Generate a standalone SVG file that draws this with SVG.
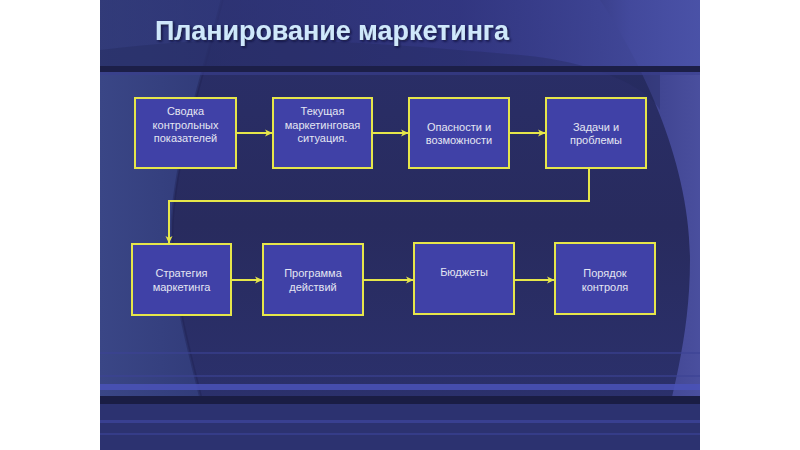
<svg xmlns="http://www.w3.org/2000/svg" width="800" height="450" viewBox="0 0 800 450">
<defs>
<style>
.box{fill:#4041a7;stroke:#e6e64a;stroke-width:2}
.lbl{font-family:"Liberation Sans",Arial,sans-serif;font-size:11px;fill:#e4e6f2;text-anchor:middle}
.con{fill:none;stroke:#e6e64a;stroke-width:2}
.title{font-family:"Liberation Sans",Arial,sans-serif;font-size:27px;font-weight:bold;fill:#cfe8fb}
</style>
<marker id="ar" viewBox="0 0 8 8" refX="7" refY="4" markerWidth="8" markerHeight="8" markerUnits="userSpaceOnUse" orient="auto">
<path d="M0,0.5 L7.5,4 L0,7.5 L2,4 Z" fill="#e6e64a"/>
</marker>
<linearGradient id="bg" x1="0" y1="0" x2="0" y2="1">
<stop offset="0" stop-color="#2a2f6a"/>
<stop offset="0.5" stop-color="#282b5e"/>
<stop offset="1" stop-color="#2c3270"/>
</linearGradient>
<linearGradient id="topg" x1="0" y1="0" x2="1" y2="0">
<stop offset="0" stop-color="#2c3370" stop-opacity="0.6"/>
<stop offset="0.6" stop-color="#35398a" stop-opacity="0.7"/>
<stop offset="1" stop-color="#4a52a8" stop-opacity="0.9"/>
</linearGradient>
<linearGradient id="leftg" x1="0" y1="0" x2="1" y2="0">
<stop offset="0" stop-color="#3a4686"/>
<stop offset="1" stop-color="#303a78"/>
</linearGradient>
<linearGradient id="rightg" x1="0" y1="0" x2="1" y2="0">
<stop offset="0" stop-color="#1c1f48"/>
<stop offset="0.3" stop-color="#3a3f8a"/>
<stop offset="1" stop-color="#4a4f9e"/>
</linearGradient>
<filter id="sh" x="-5%" y="-20%" width="110%" height="150%">
<feDropShadow dx="1.5" dy="1.5" stdDeviation="1" flood-color="#101030" flood-opacity="0.8"/>
</filter>
</defs>
<rect width="800" height="450" fill="#ffffff"/>
<g id="background">
<rect x="100" y="0" width="600" height="450" fill="url(#bg)"/>
<path d="M100,0 L222,0 C205,70 170,170 172,240 C175,320 200,380 212,450 L100,450 Z" fill="url(#leftg)"/>
<path d="M222,0 C205,70 170,170 172,240 C175,320 200,380 212,450" fill="none" stroke="#1d2050" stroke-width="3" opacity="0.4"/>
<path d="M700,0 L600,0 C640,60 690,160 690,260 C690,340 670,400 660,450 L700,450 Z" fill="url(#rightg)"/>
<rect x="100" y="0" width="600" height="68" fill="url(#topg)"/>
<path d="M100,50 C250,30 400,45 520,55 C600,62 650,90 660,110 L660,68 L100,68 Z" fill="#23275a" opacity="0.35"/>
<rect x="100" y="66" width="600" height="6" fill="#1c1f48"/>
<rect x="100" y="72" width="600" height="3" fill="#3a4090" opacity="0.6"/>
<rect x="100" y="352" width="600" height="2" fill="#3c4294" opacity="0.6"/>
<rect x="100" y="375" width="600" height="2" fill="#3c4294" opacity="0.6"/>
<rect x="100" y="384" width="600" height="6" fill="#4a52b8" opacity="0.85"/>
<rect x="100" y="396" width="600" height="8" fill="#1a1d44"/>
<rect x="100" y="404" width="600" height="46" fill="#2c3270"/>
<rect x="100" y="420" width="600" height="3" fill="#3e46a0" opacity="0.7"/>
<rect x="100" y="433" width="600" height="2" fill="#3e46a0" opacity="0.5"/>
</g>
<text class="title" x="155" y="40" textLength="354" lengthAdjust="spacingAndGlyphs" filter="url(#sh)">Планирование маркетинга</text>
<g id="connectors">
<line class="con" x1="236" y1="133" x2="272" y2="133" marker-end="url(#ar)"/>
<line class="con" x1="372" y1="133" x2="408" y2="133" marker-end="url(#ar)"/>
<line class="con" x1="509" y1="133" x2="545" y2="133" marker-end="url(#ar)"/>
<polyline class="con" points="589,168 589,201 169,201 169,243" marker-end="url(#ar)"/>
<line class="con" x1="231" y1="280" x2="262" y2="280" marker-end="url(#ar)"/>
<line class="con" x1="363" y1="280" x2="413" y2="280" marker-end="url(#ar)"/>
<line class="con" x1="514" y1="280" x2="554" y2="280" marker-end="url(#ar)"/>
</g>
<g id="n1"><rect class="box" x="135" y="98" width="101" height="70"/>
<text class="lbl" x="185.5" y="115">Сводка</text><text class="lbl" x="185.5" y="129">контрольных</text><text class="lbl" x="185.5" y="142">показателей</text></g>
<g id="n2"><rect class="box" x="273" y="98" width="99" height="70"/>
<text class="lbl" x="322.5" y="115">Текущая</text><text class="lbl" x="322.5" y="129">маркетинговая</text><text class="lbl" x="322.5" y="142">ситуация.</text></g>
<g id="n3"><rect class="box" x="409" y="98" width="100" height="70"/>
<text class="lbl" x="459" y="131">Опасности и</text><text class="lbl" x="459" y="144">возможности</text></g>
<g id="n4"><rect class="box" x="546" y="98" width="100" height="70"/>
<text class="lbl" x="596" y="131">Задачи и</text><text class="lbl" x="596" y="144">проблемы</text></g>
<g id="n5"><rect class="box" x="132" y="244" width="99" height="71"/>
<text class="lbl" x="181.5" y="277">Стратегия</text><text class="lbl" x="181.5" y="291">маркетинга</text></g>
<g id="n6"><rect class="box" x="263" y="244" width="100" height="71"/>
<text class="lbl" x="313" y="277">Программа</text><text class="lbl" x="313" y="291">действий</text></g>
<g id="n7"><rect class="box" x="414" y="243" width="100" height="71"/>
<text class="lbl" x="464" y="276">Бюджеты</text></g>
<g id="n8"><rect class="box" x="555" y="243" width="100" height="71"/>
<text class="lbl" x="605" y="277">Порядок</text><text class="lbl" x="605" y="291">контроля</text></g>
</svg>
